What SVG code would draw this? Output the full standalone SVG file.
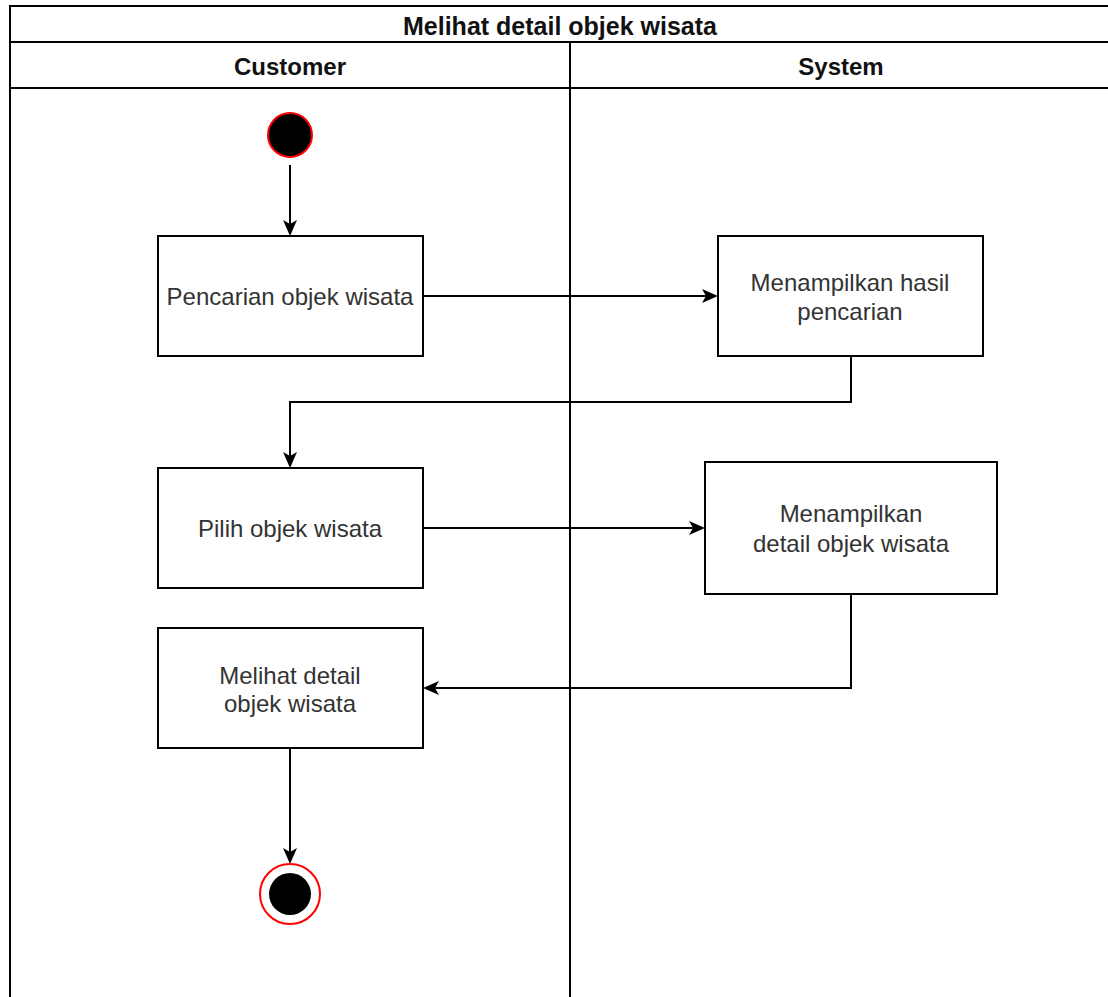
<svg xmlns="http://www.w3.org/2000/svg" width="1108" height="997" viewBox="0 0 1108 997">
  <style>
    .frame { fill: none; stroke: #000; stroke-width: 2; }
    .title { font-family: "Liberation Sans", Arial, sans-serif; font-weight: bold; font-size: 24px; fill: #111; text-anchor: middle; }
    .box { fill: #fff; stroke: #000; stroke-width: 2; }
    .label { font-family: "Liberation Sans", Arial, sans-serif; font-size: 24px; fill: #333; text-anchor: middle; }
    .edge { fill: none; stroke: #000; stroke-width: 2; marker-end: url(#arrow); }
  </style>
  <defs>
    <marker id="arrow" viewBox="0 0 16 16" refX="12" refY="8" markerWidth="16" markerHeight="16" markerUnits="userSpaceOnUse" orient="auto">
      <path d="M0,1 L16,8 L0,15 L4,8 Z" fill="#000"/>
    </marker>
  </defs>

  <rect width="1108" height="997" fill="#fff"/>

  <!-- swimlane pool -->
  <g id="pool">
    <rect class="frame" x="10" y="6" width="1110" height="1000"/>
    <line class="frame" x1="10" y1="42" x2="1120" y2="42"/>
    <line class="frame" x1="10" y1="88" x2="1120" y2="88"/>
    <line class="frame" x1="570" y1="42" x2="570" y2="1000"/>
    <text class="title" x="560" y="35" style="font-size:25px">Melihat detail objek wisata</text>
    <text class="title" x="290" y="75">Customer</text>
    <text class="title" x="841" y="75">System</text>
  </g>

  <!-- control flow -->
  <g id="connectors">
    <path class="edge" d="M290,165 V232"/>
    <path class="edge" d="M423,296 H714"/>
    <path class="edge" d="M851,356 V402 H290 V464"/>
    <path class="edge" d="M423,528 H701"/>
    <path class="edge" d="M851,594 V688 H427"/>
    <path class="edge" d="M290,748 V860"/>
  </g>

  <g id="start">
    <circle cx="290" cy="135" r="22" fill="#000" stroke="#ff0000" stroke-width="2"/>
  </g>

  <g id="pencarian">
    <rect class="box" x="158" y="236" width="265" height="120"/>
    <text class="label" x="290" y="305">Pencarian objek wisata</text>
  </g>

  <g id="hasil">
    <rect class="box" x="718" y="236" width="265" height="120"/>
    <text class="label" x="850" y="291">Menampilkan hasil</text>
    <text class="label" x="850" y="320">pencarian</text>
  </g>

  <g id="pilih">
    <rect class="box" x="158" y="468" width="265" height="120"/>
    <text class="label" x="290" y="537">Pilih objek wisata</text>
  </g>

  <g id="detail-system">
    <rect class="box" x="705" y="462" width="292" height="132"/>
    <text class="label" x="851" y="522">Menampilkan</text>
    <text class="label" x="851" y="552">detail objek wisata</text>
  </g>

  <g id="detail-customer">
    <rect class="box" x="158" y="628" width="265" height="120"/>
    <text class="label" x="290" y="684">Melihat detail</text>
    <text class="label" x="290" y="712">objek wisata</text>
  </g>

  <g id="end">
    <circle cx="290" cy="894" r="30" fill="#fff" stroke="#ff0000" stroke-width="2"/>
    <circle cx="290" cy="894" r="21" fill="#000"/>
  </g>
</svg>
